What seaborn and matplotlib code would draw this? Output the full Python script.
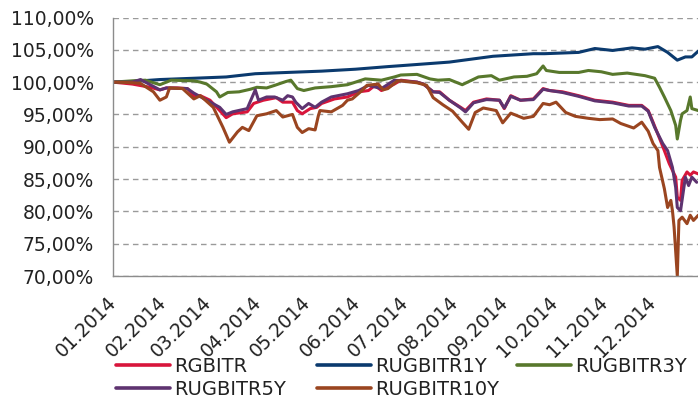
import matplotlib
matplotlib.use("Agg")
import matplotlib.pyplot as plt
from matplotlib.lines import Line2D
from matplotlib.ticker import FuncFormatter, FixedLocator, NullFormatter
import matplotlib.dates as mdates
from matplotlib.transforms import offset_copy
import seaborn as sns
import pandas as pd

# ---------------- data (day offset from 2014-01-01, value in %) ----------------
series_names = ["RGBITR", "RUGBITR1Y", "RUGBITR3Y", "RUGBITR5Y", "RUGBITR10Y"]
colors = ["#D8153B", "#0B3A6E", "#58782C", "#5E3370", "#9A4520"]

red_days = [0, 12, 23, 29, 33, 40, 46, 50, 54, 60, 66, 70, 74, 83, 87, 93, 101, 105, 111, 114,
            117, 122, 126, 129, 137, 145, 152, 158, 162, 166, 174, 178, 188, 192, 198, 202, 208,
            215, 218, 223, 231, 239, 242, 246, 252, 260, 266, 270, 278, 288, 298, 309, 319, 327,
            331, 334, 338, 341, 344, 348, 349, 351, 352, 355, 357, 359, 362]
red_vals = [100.0, 99.7, 99.2, 98.8, 99.1, 99.1, 99.0, 97.9, 97.9, 97.2, 95.6, 94.5, 95.1, 95.4,
            96.7, 97.2, 97.6, 96.9, 96.9, 95.6, 95.1, 95.9, 96.1, 96.7, 97.4, 97.7, 98.5, 98.7,
            99.5, 98.7, 99.7, 100.3, 100.0, 99.7, 98.5, 98.5, 97.2, 96.1, 95.6, 96.9, 97.4, 97.2,
            95.9, 97.9, 97.2, 97.4, 99.0, 98.7, 98.5, 97.9, 97.2, 96.9, 96.4, 96.4, 95.6, 93.8,
            91.3, 89.4, 87.4, 85.3, 82.2, 81.7, 84.8, 86.1, 85.6, 86.1, 85.8]

y1_days = [0, 12, 29, 50, 70, 88, 108, 129, 150, 170, 181, 208, 235, 260, 267, 288, 298, 309,
           321, 329, 337, 343, 348, 349, 354, 358, 362]
y1_vals = [100.0, 100.1, 100.4, 100.6, 100.8, 101.3, 101.5, 101.7, 102.0, 102.4, 102.6, 103.1,
           104.0, 104.4, 104.4, 104.6, 105.2, 104.9, 105.3, 105.1, 105.5, 104.6, 103.6, 103.4,
           103.9, 103.9, 104.8]

y3_days = [0, 12, 20, 29, 36, 50, 54, 58, 64, 66, 71, 78, 85, 89, 95, 100, 107, 110, 114, 118,
           125, 135, 145, 150, 156, 166, 174, 178, 188, 196, 201, 208, 216, 226, 234, 239, 248,
           256, 262, 266, 268, 276, 288, 294, 302, 309, 318, 329, 335, 338, 341, 345, 348, 349,
           351, 352, 355, 357, 358, 362]
y3_vals = [100.0, 100.2, 100.3, 99.6, 100.3, 100.2, 100.0, 99.7, 98.5, 97.7, 98.4, 98.5, 98.9,
           99.2, 99.1, 99.5, 100.1, 100.3, 99.0, 98.7, 99.1, 99.3, 99.6, 100.0, 100.5, 100.3,
           100.8, 101.1, 101.2, 100.5, 100.3, 100.4, 99.6, 100.8, 101.0, 100.3, 100.8, 100.9,
           101.3, 102.5, 101.8, 101.5, 101.5, 101.8, 101.6, 101.2, 101.4, 101.0, 100.6, 99.2,
           97.7, 95.6, 93.3, 91.2, 94.1, 95.1, 95.6, 97.7, 95.9, 95.6]

y5_days = [0, 12, 17, 29, 33, 46, 50, 58, 66, 70, 74, 83, 88, 90, 95, 100, 105, 108, 111, 113,
           117, 121, 125, 129, 135, 145, 152, 158, 166, 174, 178, 188, 192, 198, 202, 208, 215,
           218, 223, 231, 239, 242, 246, 252, 260, 266, 270, 278, 288, 298, 309, 319, 327, 331,
           335, 340, 343, 346, 348, 349, 351, 354, 356, 358, 361]
y5_vals = [100.0, 100.0, 100.4, 98.8, 99.1, 99.0, 98.3, 97.2, 96.1, 95.0, 95.4, 95.9, 98.8, 97.2,
           97.7, 97.7, 97.2, 97.9, 97.7, 96.9, 95.9, 96.7, 96.1, 96.9, 97.7, 98.2, 98.7, 99.5,
           99.0, 100.3, 100.2, 100.0, 99.7, 98.5, 98.4, 97.2, 96.0, 95.4, 96.8, 97.3, 97.2, 96.0,
           97.8, 97.2, 97.3, 98.9, 98.7, 98.4, 97.8, 97.1, 96.8, 96.3, 96.3, 95.5, 93.0, 90.5,
           89.4, 86.8, 83.7, 80.6, 80.1, 85.3, 84.0, 85.3, 84.5]

y10_days = [0, 12, 17, 25, 29, 33, 35, 43, 50, 54, 62, 68, 72, 77, 80, 84, 89, 95, 101, 105,
            108, 111, 114, 117, 121, 125, 127, 128, 135, 142, 145, 148, 154, 157, 164, 167, 170,
            176, 178, 188, 194, 198, 204, 210, 216, 220, 224, 229, 237, 241, 246, 254, 260, 266,
            270, 274, 280, 286, 294, 301, 309, 314, 322, 327, 331, 334, 337, 338, 341, 343, 345,
            346, 347, 349, 350, 352, 355, 357, 359, 362]
y10_vals = [100.0, 99.9, 99.8, 98.5, 97.2, 97.7, 99.1, 99.0, 97.4, 97.9, 96.1, 93.0, 90.7, 92.3,
            93.0, 92.5, 94.8, 95.1, 95.6, 94.6, 94.8, 95.0, 93.0, 92.2, 92.8, 92.6, 94.8, 95.6,
            95.4, 96.4, 97.2, 97.4, 98.7, 99.5, 99.7, 98.8, 99.0, 100.2, 100.2, 99.9, 99.5, 97.6,
            96.5, 95.5, 93.8, 92.7, 95.3, 96.0, 95.6, 93.7, 95.2, 94.4, 94.7, 96.7, 96.5, 96.9,
            95.3, 94.7, 94.4, 94.2, 94.3, 93.6, 92.9, 93.8, 92.4, 90.5, 89.4, 86.8, 83.5, 80.6,
            81.7, 80.1, 77.6, 70.0, 78.6, 79.1, 78.1, 79.4, 78.6, 79.4]

month_ticks = ["2014-01-01", "2014-02-01", "2014-03-01", "2014-04-01", "2014-05-01", "2014-06-01",
               "2014-07-01", "2014-08-01", "2014-09-01", "2014-10-01", "2014-11-01", "2014-12-01"]
month_labels = ["01.2014", "02.2014", "03.2014", "04.2014", "05.2014", "06.2014",
                "07.2014", "08.2014", "09.2014", "10.2014", "11.2014", "12.2014"]
y_ticks = [70, 75, 80, 85, 90, 95, 100, 105, 110]

# ---------------- build frame ----------------
start = pd.Timestamp("2014-01-01")
all_days = [red_days, y1_days, y3_days, y5_days, y10_days]
all_vals = [red_vals, y1_vals, y3_vals, y5_vals, y10_vals]
frames = []
for name, d, v in zip(series_names, all_days, all_vals):
    frames.append(pd.DataFrame({
        "date": start + pd.to_timedelta(d, unit="D"),
        "value": v,
        "series": name,
    }))
df = pd.concat(frames, ignore_index=True)

# ---------------- plot ----------------
sns.set_style("white")
plt.rcParams["font.family"] = ["DejaVu Sans"]

W, H = 698, 401
fig = plt.figure(figsize=(W / 100, H / 100), dpi=100)
ax = fig.add_axes([113 / W, 1 - 276 / H, (W - 113) / W, (276 - 17.5) / H])

sns.lineplot(data=df, x="date", y="value", hue="series", hue_order=series_names,
             palette=dict(zip(series_names, colors)), estimator=None, sort=True,
             linewidth=2.2, legend=False, ax=ax)

ax.set_ylim(70, 110)
ax.set_xlim(start, start + pd.Timedelta(days=361.8))
ax.set_yticks(y_ticks)
ax.yaxis.set_major_formatter(FuncFormatter(lambda v, p: f"{v:.2f}%".replace(".", ",")))
tick_nums = [mdates.date2num(pd.Timestamp(t).to_pydatetime()) for t in month_ticks]
ax.xaxis.set_major_locator(FixedLocator(tick_nums))
ax.xaxis.set_major_formatter(NullFormatter())
ax.set_xlabel("")
ax.set_ylabel("")

# month labels, rotated 45 degrees, ending just right of each tick
label_tr = offset_copy(ax.get_xaxis_transform(), fig=fig, x=0, y=-17, units="points")
for tn, lbl in zip(tick_nums, month_labels):
    ax.text(tn, 0, lbl, transform=label_tr, rotation=45, rotation_mode="anchor",
            ha="right", va="center", fontsize=13.5, color="#222222", clip_on=False)

ax.yaxis.grid(True, linestyle=(0, (4, 3)), color="#9a9a9a", linewidth=1.0)
ax.xaxis.grid(False)
ax.set_axisbelow(True)

for s in ["top", "right"]:
    ax.spines[s].set_visible(False)
for s in ["left", "bottom"]:
    ax.spines[s].set_color("#8c8c8c")
    ax.spines[s].set_linewidth(1.0)

ax.tick_params(axis="y", direction="out", length=5.5, width=1, color="#8c8c8c",
               labelsize=13.5, labelcolor="#222222", pad=8)
ax.tick_params(axis="x", direction="out", length=4, width=1, color="#8c8c8c")

# ---------------- legend (three columns) ----------------
handles = [Line2D([], [], color=c, linewidth=2.6) for c in colors]
cols = [([0, 3], 116), ([1, 4], 317), ([2], 517)]
for idx, xpix in cols:
    fig.legend([handles[i] for i in idx], [series_names[i] for i in idx],
               loc="upper left", bbox_to_anchor=(xpix / W, 1 - 357 / H),
               frameon=False, borderpad=0, borderaxespad=0, handlelength=2.8,
               handletextpad=0.2, labelspacing=0.2, fontsize=14,
               labelcolor="#222222")

fig.savefig("out.png", dpi=100)
